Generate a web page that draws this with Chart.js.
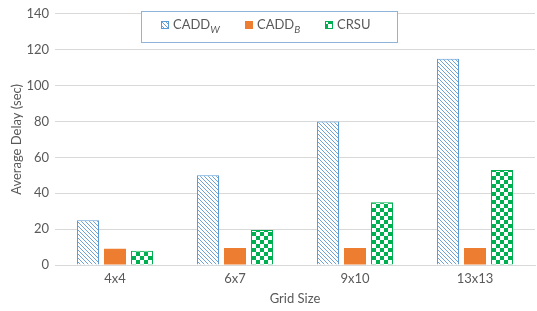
<!DOCTYPE html>
<html lang="en">
<head>
  <meta charset="UTF-8">
  <title>Average Delay</title>
  <script src="https://cdn.jsdelivr.net/npm/chart.js"></script>
  <style>
    html, body { margin: 0; padding: 0; background: #fff; }
    #wrap { width: 537px; height: 311px; position: relative; }
  </style>
</head>
<body>
  <div id="wrap"><canvas id="chart"></canvas></div>
  <script>
    const categories = ['4x4', '6x7', '9x10', '13x13'];
    const caddW = [25, 50, 80, 115];
    const caddB = [9, 9.5, 9.5, 9.5];
    const crsu = [8, 19.5, 35, 53];
    const yTicks = [0, 20, 40, 60, 80, 100, 120, 140];

    const FONT = 'Lato, "Open Sans", sans-serif';
    const TEXT = '#595959';

    // diagonal hatch, lines going down to the right
    function hatchPattern() {
      const c = document.createElement('canvas');
      c.width = 4; c.height = 4;
      const g = c.getContext('2d');
      g.fillStyle = '#fff';
      g.fillRect(0, 0, 4, 4);
      g.strokeStyle = '#6fa3d8';
      g.lineWidth = 1;
      g.beginPath();
      g.moveTo(-1, -1); g.lineTo(5, 5);
      g.moveTo(-1, 3); g.lineTo(1, 5);
      g.moveTo(3, -1); g.lineTo(5, 1);
      g.stroke();
      return g.createPattern(c, 'repeat');
    }

    function checkerPattern() {
      const c = document.createElement('canvas');
      c.width = 8; c.height = 8;
      const g = c.getContext('2d');
      g.fillStyle = '#00b050';
      g.fillRect(0, 0, 8, 8);
      g.fillStyle = '#fff';
      g.fillRect(0, 0, 4, 4);
      g.fillRect(4, 4, 4, 4);
      return g.createPattern(c, 'repeat');
    }

    const hatch = hatchPattern();
    const checker = checkerPattern();

    // boxed legend drawn over the plot, with subscripts
    const boxLegend = {
      id: 'boxLegend',
      afterDraw(chart) {
        const ctx = chart.ctx;
        ctx.save();
        ctx.fillStyle = '#fff';
        ctx.fillRect(141, 11, 256, 31);
        ctx.strokeStyle = '#8fb4dc';
        ctx.lineWidth = 1;
        ctx.strokeRect(141.5, 11.5, 256, 31);

        const items = [
          { x: 161, fill: hatch, border: '#5b9bd5', main: 'CADD', sub: 'W' },
          { x: 245, fill: '#ed7d31', border: '#ed7d31', main: 'CADD', sub: 'B' },
          { x: 325, fill: checker, border: '#00b050', main: 'CRSU', sub: '' }
        ];
        const cy = 25;
        items.forEach(it => {
          ctx.fillStyle = it.fill;
          ctx.fillRect(it.x, cy - 4, 8, 8);
          ctx.strokeStyle = it.border;
          ctx.strokeRect(it.x + 0.5, cy - 3.5, 7, 7);
          ctx.fillStyle = TEXT;
          ctx.textBaseline = 'middle';
          ctx.textAlign = 'left';
          ctx.font = '13px ' + FONT;
          ctx.fillText(it.main, it.x + 12, cy);
          const w = ctx.measureText(it.main).width;
          if (it.sub) {
            ctx.font = 'italic 10px ' + FONT;
            ctx.fillText(it.sub, it.x + 12 + w, cy + 5);
          }
        });
        ctx.restore();
      }
    };

    new Chart(document.getElementById('chart'), {
      type: 'bar',
      data: {
        labels: categories,
        datasets: [
          { label: 'CADDW', data: caddW, backgroundColor: hatch, borderColor: '#5b9bd5', borderWidth: 1 },
          { label: 'CADDB', data: caddB, backgroundColor: '#ed7d31', borderColor: '#ed7d31', borderWidth: 0 },
          { label: 'CRSU', data: crsu, backgroundColor: checker, borderColor: '#00b050', borderWidth: 1 }
        ]
      },
      options: {
        responsive: true,
        maintainAspectRatio: false,
        animation: false,
        datasets: {
          bar: { categoryPercentage: 0.675, barPercentage: 0.815 }
        },
        layout: { padding: { top: 7, right: 2, left: 9, bottom: 0 } },
        plugins: {
          legend: { display: false },
          tooltip: { enabled: false }
        },
        scales: {
          x: {
            grid: { display: false, drawTicks: false },
            border: { display: true, color: '#d9d9d9' },
            ticks: { color: TEXT, font: { family: FONT, size: 13 }, padding: 6 },
            title: { display: true, text: 'Grid Size', color: TEXT, font: { family: FONT, size: 13 }, padding: { top: 3, bottom: 4 } },
            afterFit(scale) { scale.height = 46; }
          },
          y: {
            min: 0,
            max: 140,
            afterBuildTicks(scale) { scale.ticks = yTicks.map(v => ({ value: v })); },
            grid: { color: '#d9d9d9', drawTicks: false },
            border: { display: false },
            ticks: { color: TEXT, font: { family: FONT, size: 13 }, padding: 6 },
            title: { display: true, text: 'Average Delay (sec)', color: TEXT, font: { family: FONT, size: 13 }, padding: { top: 0, bottom: 4 } },
            afterFit(scale) { scale.width = 46; }
          }
        }
      },
      plugins: [boxLegend]
    });
  </script>
</body>
</html>
